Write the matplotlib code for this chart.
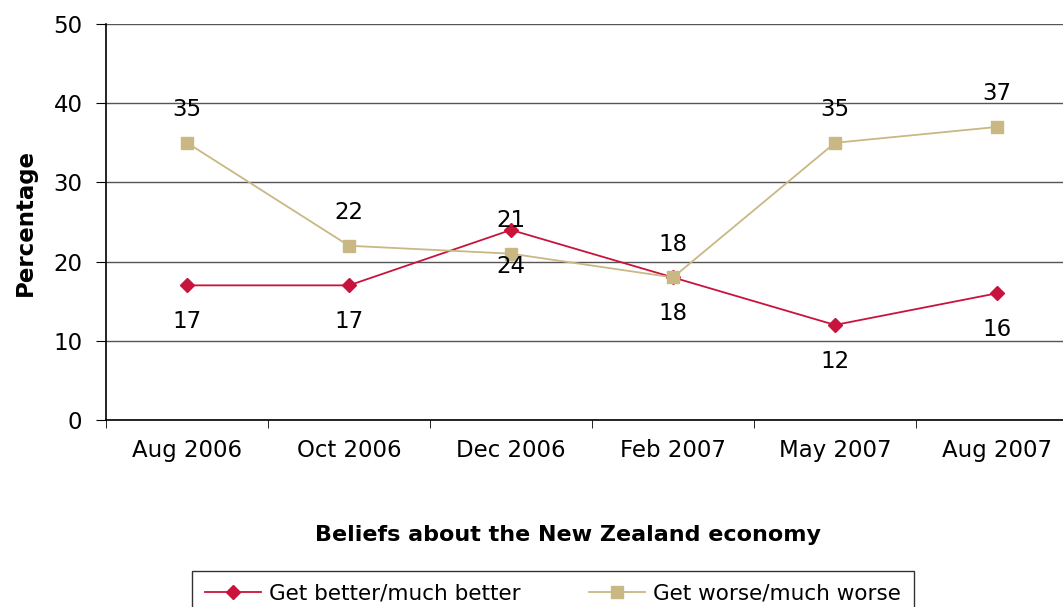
import numpy as np
import matplotlib.pyplot as plt

months = ['Aug 2006', 'Oct 2006', 'Dec 2006', 'Feb 2007', 'May 2007', 'Aug 2007']
better = [17, 17, 24, 18, 12, 16]
worse = [35, 22, 21, 18, 35, 37]
# data labels as printed on the original chart
better_labels = ['17', '17', '24', '18', '12', '16']
worse_labels = ['35', '22', '21', '18', '35', '37']

red = '#C8143C'
tan = '#C9B884'
fs = 16.5

fig = plt.figure(figsize=(10.63, 6.07), dpi=100)
ax = fig.add_axes([106 / 1063, 1 - 420 / 607, 972 / 1063, 396 / 607])

x = np.arange(len(months))
ax.plot(x, better, color=red, lw=1.3, marker='D', ms=7, label='Get better/much better', zorder=3)
ax.plot(x, worse, color=tan, lw=1.3, marker='s', ms=8, label='Get worse/much worse', zorder=3)

for i in x:
    ax.annotate(better_labels[i], (i, better[i]), xytext=(0, -26), textcoords='offset points',
                ha='center', va='center', fontsize=fs)
    ax.annotate(worse_labels[i], (i, worse[i]), xytext=(0, 24), textcoords='offset points',
                ha='center', va='center', fontsize=fs)

ax.set_xlim(-0.5, 5.5)
ax.set_ylim(0, 50)
ax.set_yticks(range(0, 51, 10))
ax.yaxis.grid(True, color='#555555', lw=1)
ax.set_axisbelow(True)
ax.set_xticks(x)
ax.set_xticklabels(months, fontsize=fs)
ax.set_xticks(np.arange(-0.5, 6, 1), minor=True)
ax.tick_params(axis='x', which='major', length=0, pad=14)
ax.tick_params(axis='x', which='minor', length=6, direction='out', color='black')
ax.tick_params(axis='y', labelsize=fs, length=7, direction='out', pad=10)
for s in ['top', 'right']:
    ax.spines[s].set_visible(False)
ax.spines['left'].set_linewidth(1.2)
ax.spines['bottom'].set_linewidth(1.2)

ax.set_ylabel('Percentage', fontsize=16.5, fontweight='bold', labelpad=12)
fig.text(568 / 1063, 1 - 535 / 607, 'Beliefs about the New Zealand economy',
         ha='center', va='center', fontsize=16, fontweight='bold')

leg = fig.legend(loc='upper center', bbox_to_anchor=(553 / 1063, 1 - 571 / 607), ncol=2,
                 fontsize=15.5, frameon=True, fancybox=False, edgecolor='black',
                 handlelength=2.6, handletextpad=0.35, columnspacing=3.2,
                 borderpad=0.6, borderaxespad=0)
leg.get_frame().set_linewidth(1)

fig.savefig('out.png', dpi=100)
